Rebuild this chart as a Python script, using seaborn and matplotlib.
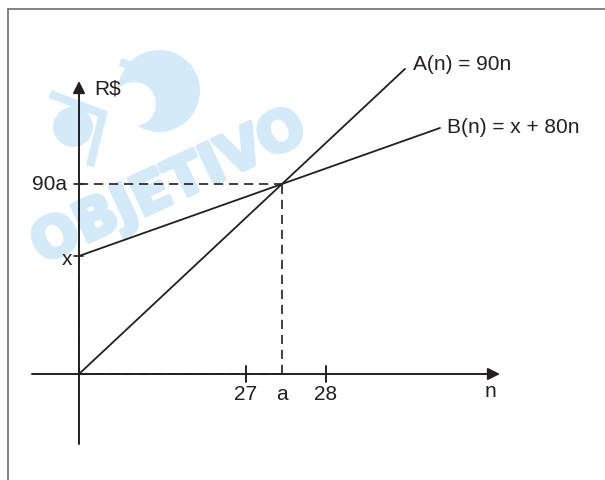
import matplotlib
matplotlib.use('Agg')
import matplotlib.pyplot as plt
import matplotlib.patches as mpatches
import matplotlib.patheffects as pe
import numpy as np
import pandas as pd
import seaborn as sns

# Schematic diagram: units are arbitrary (one unit ~ one pixel of the original sketch)
a_pos = 203          # n = a (break-even point, between 27 and 28)
x_val = 118          # B(0) = x
val_90a = 190        # A(a) = B(a) = 90a
n_ticks = [167, 203, 247]
n_tick_labels = ['27', 'a', '28']
a_end = 326          # where line A stops
b_end = 361          # where line B stops

slope_a = val_90a / a_pos
slope_b = (val_90a - x_val) / a_pos

df_a = pd.DataFrame({'n': [0, a_end]})
df_a['value'] = slope_a * df_a['n']
df_b = pd.DataFrame({'n': [0, b_end]})
df_b['value'] = x_val + slope_b * df_b['n']

sns.set_style('white')
plt.rcParams['font.family'] = ['Liberation Sans', 'DejaVu Sans']

INK = '#231f20'
WM = '#d4eaf9'

fig = plt.figure(figsize=(6.05, 4.81), dpi=100)
ax = fig.add_axes([0, 0, 1, 1])
ax.set_xlim(-79, 526)
ax.set_ylim(-106, 375)
ax.set_axis_off()

# 1. Watermark (light blue logo + text)
ax.add_patch(mpatches.Circle((80, 283), 41, color=WM, zorder=0, lw=0))
ax.add_patch(mpatches.Circle((55, 270), 22, color='white', zorder=0.1, lw=0))
ax.add_patch(mpatches.Circle((-6, 247), 20, color=WM, zorder=0, lw=0))
ax.plot([-29, 24, 11], [280, 260, 208], color=WM, lw=6, zorder=0.2,
        solid_joinstyle='miter', solid_capstyle='butt')
ax.plot([41, 96, 81], [312, 293, 245], color=WM, lw=6, zorder=0.2,
        solid_joinstyle='miter', solid_capstyle='butt')
ax.text(90, 186, 'OBJETIVO', color=WM, fontsize=40, fontweight='heavy',
        family='DejaVu Sans', rotation=25, ha='center', va='center',
        zorder=0.3,
        path_effects=[pe.withStroke(linewidth=3, foreground=WM)])

# 2. Frame of the picture
ax.plot([-71, -71], [-106, 365], color='#6d6e70', lw=1.2)
ax.plot([-71, 526], [365, 365], color='#6d6e70', lw=1.2)

# 3. Axes with arrows
ax.annotate('', xy=(421, 0), xytext=(-47, 0),
            arrowprops=dict(arrowstyle='-|>', color=INK, lw=1.4,
                            mutation_scale=18, shrinkA=0, shrinkB=0))
ax.annotate('', xy=(0, 293), xytext=(0, -70),
            arrowprops=dict(arrowstyle='-|>', color=INK, lw=1.4,
                            mutation_scale=18, shrinkA=0, shrinkB=0))

# 4. Lines A(n) and B(n)
sns.lineplot(data=df_a, x='n', y='value', ax=ax, color=INK, lw=1.3)
sns.lineplot(data=df_b, x='n', y='value', ax=ax, color=INK, lw=1.3)

# 5. Dashed guide lines
dash = (0, (5.5, 3.5))
ax.plot([0, a_pos], [val_90a, val_90a], color=INK, lw=1.2, linestyle=dash)
ax.plot([a_pos, a_pos], [0, val_90a], color=INK, lw=1.2, linestyle=dash)
ax.plot([0, a_pos], [0, 0], color=INK, lw=1.2, linestyle=dash)
ax.plot([0, 0], [0, x_val], color=INK, lw=1.2, linestyle=dash)

# 6. Ticks and labels
for pos, lab in zip(n_ticks, n_tick_labels):
    if lab != 'a':
        ax.plot([pos, pos], [-8, 8], color=INK, lw=1.4)
    ax.text(pos, -20, lab, fontsize=15, color=INK, ha='center', va='center')
for val in [val_90a, x_val]:
    ax.plot([-5, 4], [val, val], color=INK, lw=1.2)
ax.text(-12, val_90a, '90a', fontsize=15, color=INK, ha='right', va='center')
ax.text(-7, x_val - 3, 'x', fontsize=15, color=INK, ha='right', va='center')
ax.text(15, 286, 'R$', fontsize=15, color=INK, ha='left', va='center')
ax.text(411, -17, 'n', fontsize=15, color=INK, ha='center', va='center')
ax.text(334, 310, 'A(n) = 90n', fontsize=15, color=INK, ha='left', va='center')
ax.text(368, 247, 'B(n) = x + 80n', fontsize=15, color=INK, ha='left',
        va='center')

fig.savefig('out.png', dpi=100)
